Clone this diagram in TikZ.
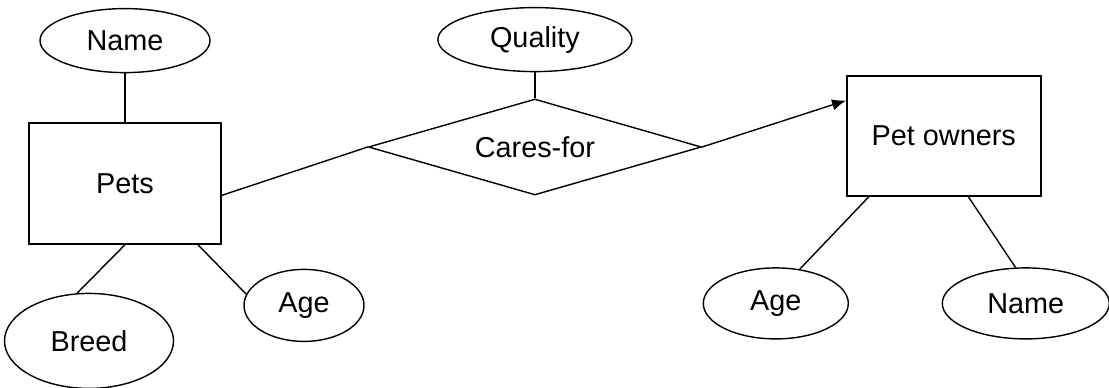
\documentclass[tikz,border=0pt]{standalone}
\usepackage{fontspec}
\setmainfont{Liberation Sans}
\usetikzlibrary{shapes,arrows.meta,positioning}

\begin{document}
\begin{tikzpicture}[node distance=1cm, font=\fontsize{20.5}{24}\selectfont]
    \tikzstyle{entity} = [draw, rectangle, line width=1pt, inner sep=0pt, text centered]
    \tikzstyle{attr} = [draw, ellipse, line width=1pt, inner sep=0pt, minimum height=1.6cm]
    \tikzstyle{rel} = [draw, diamond, aspect=3.47, line width=1pt, inner sep=0pt]
    \tikzstyle{line} = [draw, line width=1pt]

    \useasboundingbox (0,0) rectangle (27.725,-9.7);

    \node [entity, minimum width=4.8cm, minimum height=3.025cm] (pets) at (3.125,-4.5875) {Pets};
    \node [attr, minimum width=4.25cm, above=1.225cm of pets] (petname) {Name};
    \node [attr, minimum width=4.225cm, minimum height=2.375cm, below=1.2cm of pets, xshift=-0.9cm] (breed) {Breed};
    \node [attr, minimum width=3cm, minimum height=1.8cm, below=0.6cm of pets, xshift=4.475cm] (petage) {Age};
    \node [rel, minimum width=8.325cm, minimum height=2.4cm, right=3.65cm of pets, yshift=0.9125cm] (cares) {Cares-for};
    \node [attr, minimum width=4.85cm, above=0.65cm of cares] (quality) {Quality};
    \node [entity, minimum width=4.85cm, minimum height=3cm, right=3.6cm of cares, yshift=0.275cm] (owners) {Pet owners};
    \node [attr, minimum width=3.625cm, minimum height=1.775cm, below=1.7625cm of owners, xshift=-4.2cm] (ownerage) {Age};
    \node [attr, minimum width=4.175cm, minimum height=1.775cm, below=1.7625cm of owners, xshift=2.05cm] (ownername) {Name};

    \path [line] (petname) -- (pets);
    \path [line] (pets.-40) -- (petage.169);
    \path [line] (pets.south) -- (breed.104);
    \path [line] (pets.-7) -- (cares.west);
    \path [line] (quality) -- (cares);
    \path [line, -{Latex[length=10pt,width=8pt]}] (cares.east) -- (owners.160);

    % owner attributes
    \path [line] (owners.-141) -- (ownerage.55);
    \path [line] (owners.-68) -- (ownername.106);
\end{tikzpicture}
\end{document}
